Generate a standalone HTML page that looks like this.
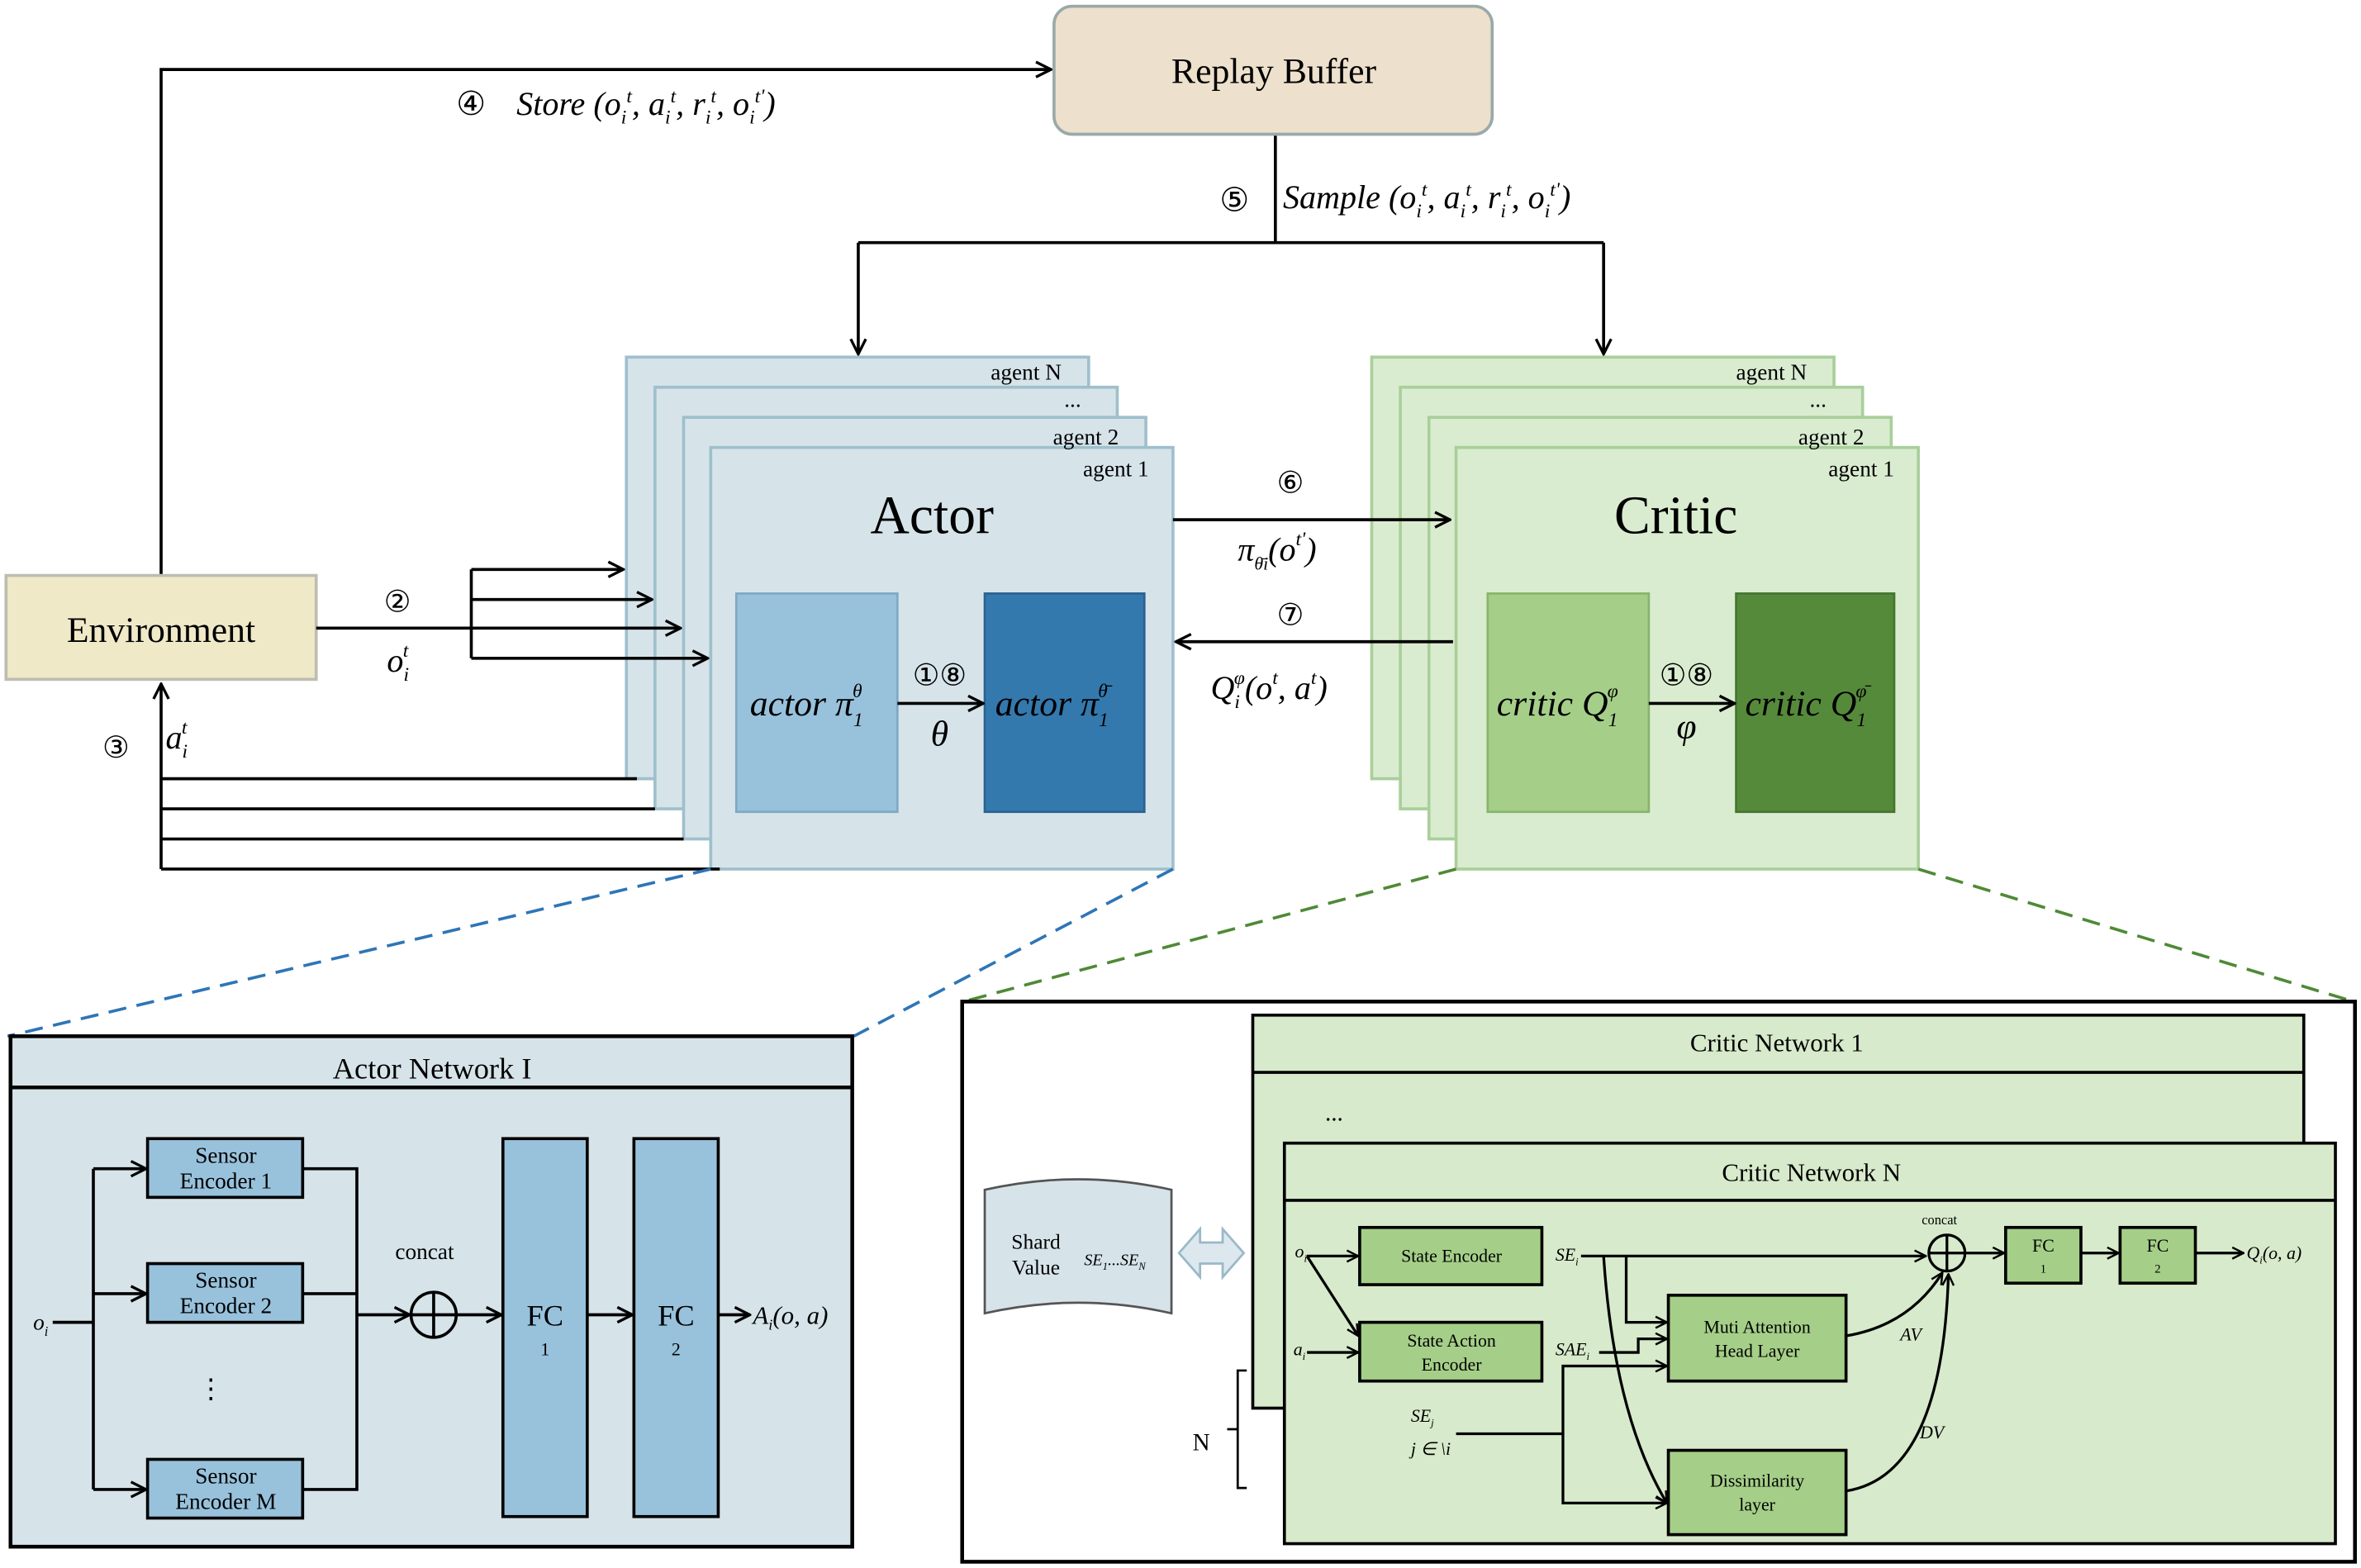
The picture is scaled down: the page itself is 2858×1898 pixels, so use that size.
<!DOCTYPE html>
<html><head><meta charset="utf-8"><style>html,body{margin:0;padding:0;background:#fff}svg{display:block}</style></head>
<body>
<svg width="2858" height="1898" viewBox="0 0 1568 1041" xmlns="http://www.w3.org/2000/svg" font-family="'Liberation Serif',serif">
<defs>
<marker id="a" viewBox="0 0 12 12" refX="11" refY="6" markerWidth="12" markerHeight="12" markerUnits="userSpaceOnUse" orient="auto"><path d="M1,1 L11,6 L1,11" fill="none" stroke="#000" stroke-width="1.8"/></marker>
<marker id="s" viewBox="0 0 12 12" refX="11" refY="6" markerWidth="9" markerHeight="9" markerUnits="userSpaceOnUse" orient="auto"><path d="M1,1 L11,6 L1,11" fill="none" stroke="#000" stroke-width="1.8"/></marker>
</defs>
<g stroke="#000" stroke-width="2" fill="none">
<!-- store -->
<polyline points="107,382 107,46 698,46" marker-end="url(#a)"/>
<polyline points="847,89 847,161"/>
<polyline points="570,161 1065,161"/>
<line x1="570" y1="161" x2="570" y2="235" marker-end="url(#a)"/>
<line x1="1065" y1="161" x2="1065" y2="235" marker-end="url(#a)"/>
</g>
<rect x="700" y="4" width="291" height="85" rx="12" fill="#ede0cc" stroke="#9aa9a9" stroke-width="2"/>
<text x="846" y="55" font-size="24" text-anchor="middle">Replay Buffer</text>
<text x="303" y="76" font-size="22">④</text>
<text x="343" y="76" font-size="22" font-style="italic">Store (o<tspan font-size="13" dy="6">i</tspan><tspan font-size="13" dy="-14">t</tspan><tspan dy="8">, a</tspan><tspan font-size="13" dy="6">i</tspan><tspan font-size="13" dy="-14">t</tspan><tspan dy="8">, r</tspan><tspan font-size="13" dy="6">i</tspan><tspan font-size="13" dy="-14">t</tspan><tspan dy="8">, o</tspan><tspan font-size="13" dy="6">i</tspan><tspan font-size="13" dy="-14">t'</tspan><tspan dy="8">)</tspan></text>
<text x="810" y="140" font-size="22">⑤</text>
<text x="852" y="138" font-size="22" font-style="italic">Sample (o<tspan font-size="13" dy="6">i</tspan><tspan font-size="13" dy="-14">t</tspan><tspan dy="8">, a</tspan><tspan font-size="13" dy="6">i</tspan><tspan font-size="13" dy="-14">t</tspan><tspan dy="8">, r</tspan><tspan font-size="13" dy="6">i</tspan><tspan font-size="13" dy="-14">t</tspan><tspan dy="8">, o</tspan><tspan font-size="13" dy="6">i</tspan><tspan font-size="13" dy="-14">t'</tspan><tspan dy="8">)</tspan></text>

<!-- actor stack -->
<g stroke="#9fbfcc" stroke-width="2" fill="#d6e4ea">
<rect x="416" y="237" width="307" height="280"/>
<rect x="435" y="257" width="307" height="280"/>
<rect x="454" y="277" width="307" height="280"/>
<rect x="472" y="297" width="307" height="280"/>
</g>
<g font-size="15" text-anchor="end">
<text x="705" y="252">agent N</text><text x="718" y="270">...</text>
<text x="743" y="295">agent 2</text><text x="763" y="316">agent 1</text>
</g>
<text x="619" y="354" font-size="36" text-anchor="middle">Actor</text>
<rect x="489" y="394" width="107" height="145" fill="#98c2dc" stroke="#7fa9c4" stroke-width="1.5"/>
<rect x="654" y="394" width="106" height="145" fill="#3479ae" stroke="#2a6391" stroke-width="1.5"/>
<text x="498" y="475" font-size="24" font-style="italic">actor π<tspan font-size="13" dy="7">1</tspan><tspan font-size="13" dx="-7" dy="-19">θ</tspan></text>
<text x="661" y="475" font-size="24" font-style="italic">actor π<tspan font-size="13" dy="7">1</tspan><tspan font-size="13" dx="-7" dy="-19">θ̄</tspan></text>
<line x1="596" y1="467" x2="653" y2="467" stroke="#000" stroke-width="2" marker-end="url(#a)"/>
<text x="624" y="455" font-size="20" text-anchor="middle">①⑧</text>
<text x="624" y="495" font-size="24" font-style="italic" text-anchor="middle">θ</text>

<!-- critic stack -->
<g stroke="#a9cf9a" stroke-width="2" fill="#d9ecd0">
<rect x="911" y="237" width="307" height="280"/>
<rect x="930" y="257" width="307" height="280"/>
<rect x="949" y="277" width="307" height="280"/>
<rect x="967" y="297" width="307" height="280"/>
</g>
<g font-size="15" text-anchor="end">
<text x="1200" y="252">agent N</text><text x="1213" y="270">...</text>
<text x="1238" y="295">agent 2</text><text x="1258" y="316">agent 1</text>
</g>
<text x="1113" y="354" font-size="36" text-anchor="middle">Critic</text>
<rect x="988" y="394" width="107" height="145" fill="#a5cf88" stroke="#88b56c" stroke-width="1.5"/>
<rect x="1153" y="394" width="105" height="145" fill="#568a3b" stroke="#467530" stroke-width="1.5"/>
<text x="994" y="475" font-size="24" font-style="italic">critic Q<tspan font-size="13" dy="7">1</tspan><tspan font-size="13" dx="-7" dy="-19">φ</tspan></text>
<text x="1159" y="475" font-size="24" font-style="italic">critic Q<tspan font-size="13" dy="7">1</tspan><tspan font-size="13" dx="-7" dy="-19">φ̄</tspan></text>
<line x1="1095" y1="467" x2="1152" y2="467" stroke="#000" stroke-width="2" marker-end="url(#a)"/>
<text x="1120" y="455" font-size="20" text-anchor="middle">①⑧</text>
<text x="1120" y="490" font-size="24" font-style="italic" text-anchor="middle">φ</text>

<!-- env -->
<rect x="4" y="382" width="206" height="69" fill="#efe9c8" stroke="#bdbdb0" stroke-width="2"/>
<text x="107" y="426" font-size="24" text-anchor="middle">Environment</text>
<g stroke="#000" stroke-width="2" fill="none">
<line x1="210" y1="417" x2="313" y2="417"/>
<line x1="313" y1="378" x2="313" y2="437"/>
<line x1="313" y1="378" x2="414" y2="378" marker-end="url(#a)"/>
<line x1="313" y1="398" x2="433" y2="398" marker-end="url(#a)"/>
<line x1="313" y1="417" x2="452" y2="417" marker-end="url(#a)"/>
<line x1="313" y1="437" x2="470" y2="437" marker-end="url(#a)"/>
<line x1="423" y1="517" x2="107" y2="517"/>
<line x1="435" y1="537" x2="107" y2="537"/>
<line x1="454" y1="557" x2="107" y2="557"/>
<line x1="478" y1="577" x2="107" y2="577"/>
<line x1="107" y1="577" x2="107" y2="454" marker-end="url(#a)"/>
<line x1="779" y1="345" x2="963" y2="345" marker-end="url(#a)"/>
<line x1="965" y1="426" x2="781" y2="426" marker-end="url(#a)"/>
</g>
<text x="255" y="406" font-size="20">②</text>
<text x="257" y="446" font-size="22" font-style="italic">o<tspan font-size="13" dy="6">i</tspan><tspan font-size="13" dx="-4" dy="-16">t</tspan></text>
<text x="68" y="503" font-size="20">③</text>
<text x="110" y="497" font-size="22" font-style="italic">a<tspan font-size="13" dy="6">i</tspan><tspan font-size="13" dx="-4" dy="-16">t</tspan></text>
<text x="848" y="327" font-size="20">⑥</text>
<text x="822" y="372" font-size="22" font-style="italic">π<tspan font-size="12" dy="6">θ̄i</tspan><tspan dy="-6">(o</tspan><tspan font-size="13" dy="-10">t'</tspan><tspan dy="10">)</tspan></text>
<text x="848" y="415" font-size="20">⑦</text>
<text x="804" y="464" font-size="22" font-style="italic">Q<tspan font-size="13" dy="6">i</tspan><tspan font-size="13" dx="-4" dy="-16">φ</tspan><tspan dy="10">(o</tspan><tspan font-size="13" dy="-10">t</tspan><tspan dy="10">, a</tspan><tspan font-size="13" dy="-10">t</tspan><tspan dy="10">)</tspan></text>

<!-- dashed -->
<g stroke-width="2" stroke-dasharray="12,7" fill="none">
<line x1="472" y1="577" x2="5" y2="688" stroke="#2e75b6"/>
<line x1="779" y1="577" x2="567" y2="688" stroke="#2e75b6"/>
<line x1="967" y1="577" x2="640" y2="665" stroke="#4e8a36"/>
<line x1="1274" y1="577" x2="1563" y2="665" stroke="#4e8a36"/>
</g>

<!-- Actor network -->
<rect x="7" y="688" width="559" height="339" fill="#d6e4ea" stroke="#000" stroke-width="2.5"/>
<line x1="7" y1="722" x2="566" y2="722" stroke="#000" stroke-width="2.5"/>
<text x="287" y="716" font-size="20" text-anchor="middle">Actor Network I</text>
<g fill="#98c2dc" stroke="#000" stroke-width="2">
<rect x="98" y="756" width="103" height="39"/>
<rect x="98" y="839" width="103" height="39"/>
<rect x="98" y="969" width="103" height="39"/>
<rect x="334" y="756" width="56" height="251"/>
<rect x="421" y="756" width="56" height="251"/>
</g>
<g font-size="15" text-anchor="middle">
<text x="150" y="772">Sensor</text><text x="150" y="789">Encoder 1</text>
<text x="150" y="855">Sensor</text><text x="150" y="872">Encoder 2</text>
<text x="150" y="985">Sensor</text><text x="150" y="1002">Encoder M</text>
<text x="282" y="836">concat</text>
<text x="140" y="928" font-size="18">⋮</text>
<text x="362" y="880" font-size="20">FC</text><text x="362" y="900" font-size="12">1</text>
<text x="449" y="880" font-size="20">FC</text><text x="449" y="900" font-size="12">2</text>
</g>
<text x="22" y="883" font-size="15" font-style="italic">o<tspan font-size="9" dy="4">i</tspan></text>
<g stroke="#000" stroke-width="2" fill="none">
<line x1="35" y1="878" x2="62" y2="878"/>
<line x1="62" y1="776" x2="62" y2="989"/>
<line x1="62" y1="776" x2="97" y2="776" marker-end="url(#a)"/>
<line x1="62" y1="859" x2="97" y2="859" marker-end="url(#a)"/>
<line x1="62" y1="989" x2="97" y2="989" marker-end="url(#a)"/>
<polyline points="201,776 237,776 237,989 201,989"/>
<line x1="201" y1="859" x2="237" y2="859"/>
<line x1="237" y1="873" x2="272" y2="873" marker-end="url(#a)"/>
<circle cx="288" cy="873" r="15"/>
<line x1="273" y1="873" x2="303" y2="873"/><line x1="288" y1="858" x2="288" y2="888"/>
<line x1="303" y1="873" x2="333" y2="873" marker-end="url(#a)"/>
<line x1="390" y1="873" x2="420" y2="873" marker-end="url(#a)"/>
<line x1="477" y1="873" x2="498" y2="873" marker-end="url(#a)"/>
</g>
<text x="500" y="879" font-size="17" font-style="italic">A<tspan font-size="10" dy="4">i</tspan><tspan dy="-4">(o, a)</tspan></text>

<!-- Critic network -->
<rect x="639" y="665" width="925" height="372" fill="#fff" stroke="#000" stroke-width="2.5"/>
<rect x="832" y="674" width="698" height="261" fill="#d7eacb" stroke="#000" stroke-width="2"/>
<line x1="832" y1="712" x2="1530" y2="712" stroke="#000" stroke-width="2"/>
<text x="1180" y="698" font-size="17" text-anchor="middle">Critic Network 1</text>
<text x="880" y="744" font-size="16">...</text>
<rect x="853" y="759" width="698" height="266" fill="#d7eacb" stroke="#000" stroke-width="2"/>
<line x1="853" y1="797" x2="1551" y2="797" stroke="#000" stroke-width="2"/>
<text x="1203" y="784" font-size="17" text-anchor="middle">Critic Network N</text>
<!-- N bracket -->
<path d="M828,910 L822,910 L822,988 L828,988 M822,949 L815,949" fill="none" stroke="#000" stroke-width="1.5"/>
<text x="792" y="963" font-size="16">N</text>
<!-- shard value -->
<path d="M654,790 Q716,776 778,790 L778,872 Q716,858 654,872 Z" fill="#d6e4ea" stroke="#555" stroke-width="1.5"/>
<text x="688" y="829" font-size="14" text-anchor="middle">Shard</text>
<text x="688" y="846" font-size="14" text-anchor="middle">Value</text>
<text x="720" y="840" font-size="11" font-style="italic">SE<tspan font-size="7" dy="3">1</tspan><tspan dy="-3">...SE</tspan><tspan font-size="7" dy="3">N</tspan></text>
<path d="M783,832 L797,816 L797,825 L812,825 L812,816 L826,832 L812,848 L812,839 L797,839 L797,848 Z" fill="#dce8ee" stroke="#9ab8c8" stroke-width="1.5"/>
<g fill="#a5cf88" stroke="#000" stroke-width="2">
<rect x="903" y="815" width="121" height="38"/>
<rect x="903" y="878" width="121" height="39"/>
<rect x="1108" y="860" width="118" height="57"/>
<rect x="1108" y="963" width="118" height="56"/>
<rect x="1332" y="815" width="50" height="37"/>
<rect x="1408" y="815" width="50" height="37"/>
</g>
<g font-size="12" text-anchor="middle">
<text x="964" y="838">State Encoder</text>
<text x="964" y="894">State Action</text><text x="964" y="910">Encoder</text>
<text x="1167" y="885">Muti Attention</text><text x="1167" y="901">Head Layer</text>
<text x="1167" y="987">Dissimilarity</text><text x="1167" y="1003">layer</text>
<text x="1357" y="831">FC</text><text x="1357" y="845" font-size="8">1</text>
<text x="1433" y="831">FC</text><text x="1433" y="845" font-size="8">2</text>
<text x="1288" y="813" font-size="9">concat</text>
</g>
<g font-size="12" font-style="italic">
<text x="860" y="835">o<tspan font-size="7" dy="3">i</tspan></text>
<text x="859" y="900">a<tspan font-size="7" dy="3">i</tspan></text>
<text x="1033" y="837">SE<tspan font-size="7" dy="3">i</tspan></text>
<text x="1033" y="900">SAE<tspan font-size="7" dy="3">i</tspan></text>
<text x="937" y="944">SE<tspan font-size="7" dy="3">j</tspan></text>
<text x="937" y="966">j ∈ \i</text>
<text x="1262" y="890">AV</text>
<text x="1275" y="955">DV</text>
<text x="1492" y="836">Q<tspan font-size="7" dy="3">i</tspan><tspan dy="-3">(o, a)</tspan></text>
</g>
<g stroke="#000" stroke-width="1.8" fill="none">
<line x1="868" y1="834" x2="902" y2="834" marker-end="url(#s)"/>
<line x1="868" y1="834" x2="902" y2="887" marker-end="url(#s)"/>
<line x1="868" y1="898" x2="902" y2="898" marker-end="url(#s)"/>
<line x1="1050" y1="834" x2="1279" y2="834" marker-end="url(#s)"/>
<polyline points="1080,834 1080,878 1107,878" marker-end="url(#s)"/>
<path d="M1065,834 Q1072,940 1107,998" marker-end="url(#s)"/>
<polyline points="1062,898 1088,898 1088,889 1107,889" marker-end="url(#s)"/>
<line x1="967" y1="952" x2="1038" y2="952"/>
<polyline points="1038,952 1038,907 1107,907" marker-end="url(#s)"/>
<polyline points="1038,952 1038,998 1107,998" marker-end="url(#s)"/>
<path d="M1226,887 Q1268,880 1290,845" marker-end="url(#s)"/>
<path d="M1226,990 Q1290,980 1294,846" marker-end="url(#s)"/>
<circle cx="1293" cy="832" r="12"/>
<line x1="1281" y1="832" x2="1305" y2="832"/><line x1="1293" y1="820" x2="1293" y2="844"/>
<line x1="1305" y1="832" x2="1331" y2="832" marker-end="url(#s)"/>
<line x1="1382" y1="832" x2="1407" y2="832" marker-end="url(#s)"/>
<line x1="1458" y1="832" x2="1490" y2="832" marker-end="url(#s)"/>
</g>
</svg>
</body></html>
